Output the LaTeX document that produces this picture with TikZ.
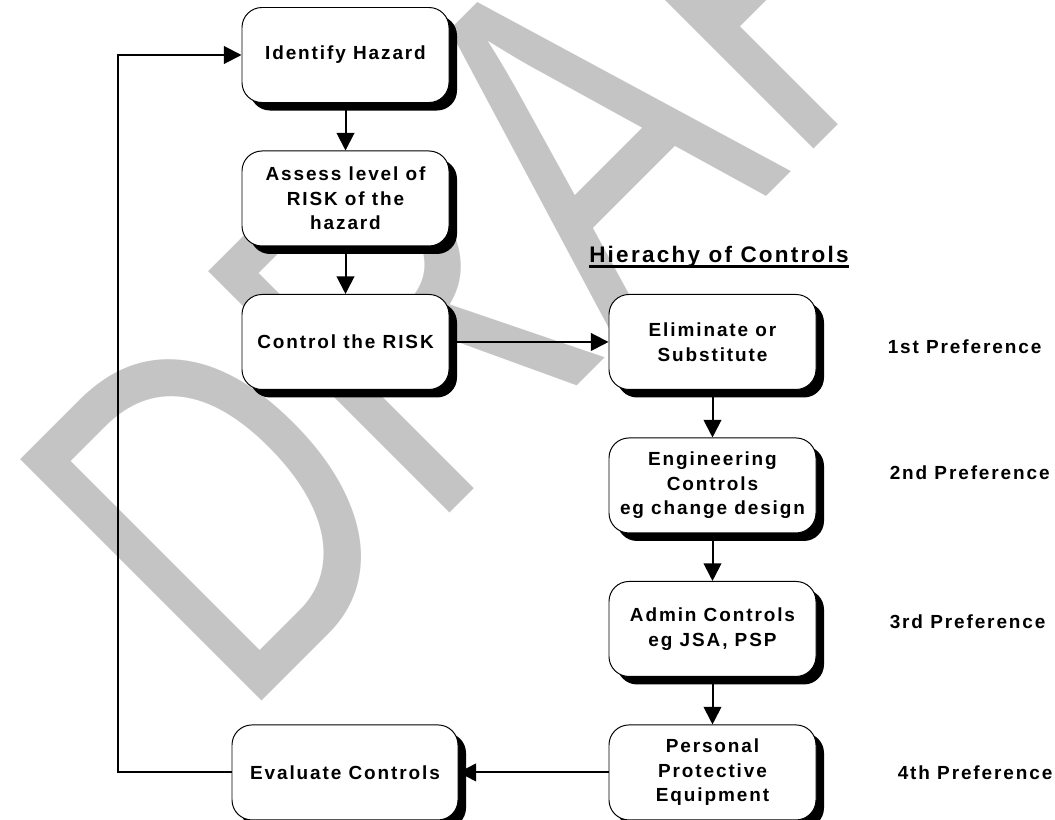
\documentclass[tikz,border=0pt]{standalone}
\usepackage{fontspec}
\setmainfont{Liberation Sans}
\newfontfamily\boxfont[LetterSpace=10]{Liberation Sans}
\usepackage{tikz}
\usetikzlibrary{arrows.meta,positioning,shadows}
\definecolor{WmGray}{HTML}{C4C4C4}
\tikzset{
  stepbox/.style={draw=black,line width=0.7pt,rounded corners=5mm,fill=white,align=center,minimum width=51.75mm,minimum height=23.75mm,inner sep=2pt,font=\boxfont\bfseries\fontsize{13.5}{17.5}\selectfont,drop shadow={shadow xshift=2mm,shadow yshift=-2mm,fill=black,opacity=1}},
  flowarrow/.style={-{Triangle[length=4.4mm,width=4.4mm]},line width=0.5mm,draw=black},
  preflabel/.style={font=\boxfont\bfseries\fontsize{13.5}{15}\selectfont,inner sep=0pt},
  headline/.style={font=\boxfont\bfseries\fontsize{16}{18}\selectfont,inner sep=0pt}
}

\begin{document}
\begin{tikzpicture}[x=0.25mm,y=-0.25mm,node distance=11.875mm and 39.75mm]
\useasboundingbox (0,0) rectangle (1055,819);

% watermark
\begin{scope}
  \clip (0,0) rectangle (1055,819);
  \begin{scope}[shift={(240,723)},cm={0.527,0.527,-0.707,0.707,(0,0)}]
    \node[transform shape,anchor=base west,inner sep=0pt,text=WmGray,font=\fontsize{353}{353}\selectfont] (wm) {DRAFT};
  \end{scope}
\end{scope}

% left column
\node[stepbox] (ident) at (345.5,55) {Identify Hazard};
\node[stepbox,below=of ident] (assess) {Assess level of\\RISK of the\\hazard};
\node[stepbox,below=of assess] (control) {Control the RISK};

% hierarchy of controls
\node[stepbox,right=of control] (elim) {Eliminate or\\Substitute};
\node[stepbox,below=of elim] (eng) {Engineering\\Controls\\eg change design};
\node[stepbox,below=of eng] (admin) {Admin Controls\\eg JSA, PSP};
\node[stepbox,below=of admin] (ppe) {Personal\\Protective\\Equipment};
\node[stepbox,left=37.5mm of ppe,minimum width=56.5mm] (eval) {Evaluate Controls};

\node[headline,anchor=base] (title) at (719,262) {Hierachy of Controls};
\draw[line width=2pt] ([yshift=-1.2mm]title.base west) -- ([yshift=-1.2mm]title.base east);

\node[preflabel,right=17.75mm of elim,yshift=-1.25mm] (pref1) {1st Preference};
\node[preflabel,right=18.25mm of eng,yshift=3.1mm] (pref2) {2nd Preference};
\node[preflabel,right=18.25mm of admin,yshift=1.75mm] (pref3) {3rd Preference};
\node[preflabel,right=20.25mm of ppe] (pref4) {4th Preference};

\draw[flowarrow] (ident) -- (assess);
\draw[flowarrow] (assess) -- (control);
\draw[flowarrow] (control) -- (elim);
\draw[flowarrow] (elim) -- (eng);
\draw[flowarrow] (eng) -- (admin);
\draw[flowarrow] (admin) -- (ppe);
\draw[flowarrow] (ppe) -- (eval);
\draw[flowarrow] (eval.west) -- ++(-28.5mm,0) |- (ident.west);
\end{tikzpicture}
\end{document}
